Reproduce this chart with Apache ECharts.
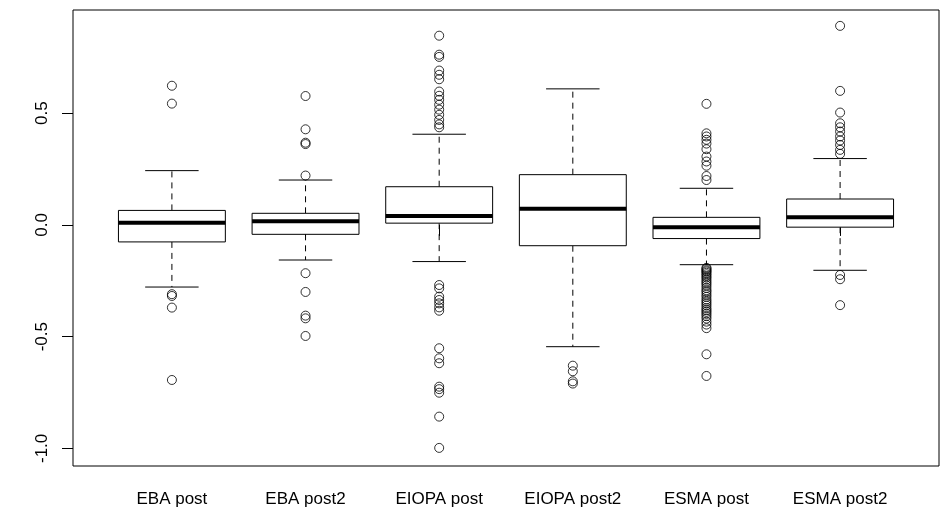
<!DOCTYPE html>
<html>
<head>
<meta charset="utf-8">
<script src="https://cdn.jsdelivr.net/npm/echarts@6/dist/echarts.min.js"></script>
<style>
html,body{margin:0;padding:0;background:#fff;}
#chart{width:944px;height:511px;}
</style>
</head>
<body>
<div id="chart"></div>
<script>
const categories = ['EBA post', 'EBA post2', 'EIOPA post', 'EIOPA post2', 'ESMA post', 'ESMA post2'];
const whiskerLow  = [-0.278, -0.157, -0.164, -0.545, -0.178, -0.203];
const quartile1   = [-0.076, -0.042,  0.008, -0.093, -0.061, -0.010];
const medians     = [ 0.010,  0.017,  0.040,  0.072, -0.010,  0.034];
const quartile3   = [ 0.065,  0.052,  0.171,  0.225,  0.034,  0.116];
const whiskerHigh = [ 0.243,  0.201,  0.406,  0.609,  0.164,  0.297];

const outEBApost = [0.623, 0.543, -0.310, -0.318, -0.370, -0.694];
const outEBApost2 = [0.577, 0.428, 0.368, 0.362, 0.221, -0.216, -0.300, -0.406, -0.418, -0.497];
const outEIOPApost = [0.847, 0.762, 0.752, 0.691, 0.672, 0.652, 0.597, 0.578, 0.560, 0.538, 0.516, 0.493, 0.470, 0.450, 0.437,
  -0.269, -0.284, -0.321, -0.336, -0.351, -0.369, -0.384, -0.552, -0.597, -0.619, -0.724, -0.735, -0.751, -0.858, -0.998];
const outEIOPApost2 = [-0.630, -0.655, -0.700, -0.710];
const outESMApost = [0.542, 0.410, 0.396, 0.381, 0.364, 0.339, 0.306, 0.284, 0.265, 0.219, 0.201,
  -0.192, -0.197, -0.203, -0.208, -0.214, -0.221, -0.229, -0.236, -0.245, -0.254, -0.262, -0.271, -0.282, -0.293,
  -0.301, -0.312, -0.322, -0.334, -0.343, -0.352, -0.361, -0.372, -0.381, -0.389, -0.398, -0.408, -0.419, -0.433,
  -0.446, -0.462, -0.579, -0.676];
const outESMApost2 = [0.891, 0.600, 0.503, 0.455, 0.437, 0.418, 0.396, 0.378, 0.358, 0.336, 0.318, -0.224, -0.243, -0.359];

const yTicks = [-1.0, -0.5, 0.0, 0.5];
const xPositions = [1, 2, 3, 4, 5, 6];

const outlierGroups = [outEBApost, outEBApost2, outEIOPApost, outEIOPApost2, outESMApost, outESMApost2];

const boxData = categories.map((c, i) => [xPositions[i], whiskerLow[i], quartile1[i], medians[i], quartile3[i], whiskerHigh[i]]);
const outlierData = [];
outlierGroups.forEach((g, i) => g.forEach(v => outlierData.push([xPositions[i], v])));

const BOX_HALF = 0.4, STAPLE_HALF = 0.2;
const FONT = '"Liberation Sans", Arial, Helvetica, sans-serif';

function renderBox(params, api) {
  const x = api.value(0);
  const lo = api.value(1), q1 = api.value(2), med = api.value(3), q3 = api.value(4), hi = api.value(5);
  const tl = api.coord([x - BOX_HALF, q3]);
  const br = api.coord([x + BOX_HALF, q1]);
  const mL = api.coord([x - BOX_HALF, med]);
  const mR = api.coord([x + BOX_HALF, med]);
  const c3 = api.coord([x, q3]);
  const cHi = api.coord([x, hi]);
  const c1 = api.coord([x, q1]);
  const cLo = api.coord([x, lo]);
  const sHiL = api.coord([x - STAPLE_HALF, hi]);
  const sHiR = api.coord([x + STAPLE_HALF, hi]);
  const sLoL = api.coord([x - STAPLE_HALF, lo]);
  const sLoR = api.coord([x + STAPLE_HALF, lo]);
  const dash = {stroke: '#000', lineWidth: 1, lineDash: [6, 5]};
  const solid = {stroke: '#000', lineWidth: 1};
  return {
    type: 'group',
    children: [
      {type: 'line', shape: {x1: c3[0], y1: c3[1], x2: cHi[0], y2: cHi[1]}, style: dash},
      {type: 'line', shape: {x1: c1[0], y1: c1[1], x2: cLo[0], y2: cLo[1]}, style: dash},
      {type: 'line', shape: {x1: sHiL[0], y1: sHiL[1], x2: sHiR[0], y2: sHiR[1]}, style: solid},
      {type: 'line', shape: {x1: sLoL[0], y1: sLoL[1], x2: sLoR[0], y2: sLoR[1]}, style: solid},
      {type: 'rect', shape: {x: tl[0], y: tl[1], width: br[0] - tl[0], height: br[1] - tl[1]},
        style: {fill: '#fff', stroke: '#000', lineWidth: 1}},
      {type: 'line', shape: {x1: mL[0], y1: mL[1], x2: mR[0], y2: mR[1]}, style: {stroke: '#000', lineWidth: 4}}
    ]
  };
}

const chart = echarts.init(document.getElementById('chart'), null, {renderer: 'canvas'});
chart.setOption({
  animation: false,
  backgroundColor: '#fff',
  grid: {left: 73, right: 5, top: 10, bottom: 45, show: true, borderColor: '#000', borderWidth: 1, containLabel: false},
  xAxis: {
    type: 'value', min: 0.26, max: 6.74,
    axisLine: {show: false},
    splitLine: {show: false},
    axisTick: {show: true, length: 11, customValues: xPositions, lineStyle: {color: '#000', width: 1}},
    axisLabel: {show: true, customValues: xPositions, margin: 25, fontSize: 17, color: '#000', fontFamily: FONT,
      formatter: v => categories[Math.round(v) - 1]}
  },
  yAxis: {
    type: 'value', min: -1.079, max: 0.962,
    axisLine: {show: false},
    splitLine: {show: false},
    axisTick: {show: true, length: 11, customValues: yTicks, lineStyle: {color: '#000', width: 1}},
    axisLabel: {show: true, customValues: yTicks, rotate: 90, margin: 22, fontSize: 17, color: '#000', fontFamily: FONT,
      formatter: v => v.toFixed(1)}
  },
  series: [
    {type: 'custom', renderItem: renderBox, data: boxData, encode: {x: 0, y: [1, 2, 3, 4, 5]}, z: 2},
    {type: 'scatter', data: outlierData, symbol: 'circle', symbolSize: 9,
      itemStyle: {color: 'rgba(0,0,0,0)', borderColor: '#000', borderWidth: 1}, z: 3}
  ]
});
</script>
</body>
</html>
